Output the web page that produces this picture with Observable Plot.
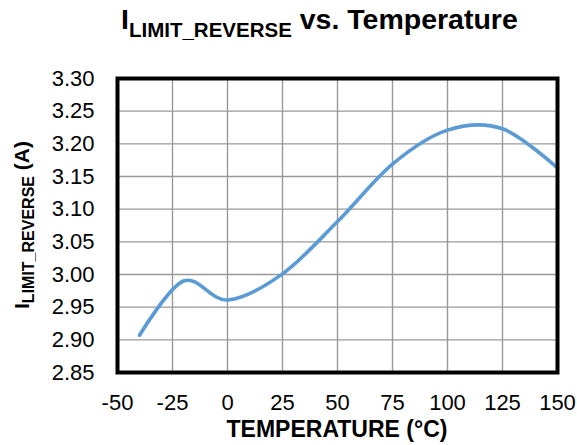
<!DOCTYPE html>
<html><head><meta charset="utf-8">
<script src="https://cdn.jsdelivr.net/npm/d3@7"></script>
<script src="https://cdn.jsdelivr.net/npm/@observablehq/plot@0.6"></script>
<style>body{margin:0;background:#fff;font-family:"Liberation Sans",Arial,sans-serif}</style>
</head><body><div id="chart"></div>
<script>
const temperature = [-40, -20, 0, 25, 50, 75, 100, 125, 150];
const current = [2.907, 2.990, 2.961, 3.001, 3.081, 3.169, 3.221, 3.223, 3.163];
const xTicks = [-50, -25, 0, 25, 50, 75, 100, 125, 150];
const yTicks = [2.85, 2.90, 2.95, 3.00, 3.05, 3.10, 3.15, 3.20, 3.25, 3.30];
const titleMain = "I", titleSub = "LIMIT_REVERSE", titleRest = " vs. Temperature";
const xLabel = "TEMPERATURE (°C)";
const yLabelMain = "I", yLabelSub = "LIMIT_REVERSE", yLabelRest = " (A)";

const data = temperature.map((t, i) => ({t, v: current[i]}));
const font = "Liberation Sans, Arial, sans-serif";

const plot = Plot.plot({
  width: 577, height: 445,
  marginLeft: 117, marginRight: 20, marginTop: 78, marginBottom: 73,
  style: {fontFamily: font, fontSize: "22px", background: "#fff", color: "#000"},
  x: {domain: [-50, 150]},
  y: {domain: [2.85, 3.30]},
  marks: [
    Plot.gridX(xTicks, {stroke: "#999", strokeOpacity: 1, strokeWidth: 1.4}),
    Plot.gridY(yTicks, {stroke: "#999", strokeOpacity: 1, strokeWidth: 1.4}),
    Plot.line(data, {x: "t", y: "v", stroke: "#5B9BD5", strokeWidth: 3.6, curve: "cardinal"}),
    Plot.frame({stroke: "#000", strokeWidth: 4}),
    Plot.axisX({ticks: xTicks, tickSize: 0, tickPadding: 22, fontSize: 22, label: null, tickFormat: d => String(d)}),
    Plot.axisY({ticks: yTicks, tickSize: 0, tickPadding: 23, fontSize: 22, label: null, tickFormat: d3.format(".2f")})
  ]
});
document.getElementById("chart").appendChild(plot);

const svg = d3.select(plot);
const xs = plot.scale("x").range, ys = plot.scale("y").range;
const cx = (xs[0] + xs[1]) / 2, cy = (ys[0] + ys[1]) / 2;

// title
const t = svg.append("text").attr("x", 121).attr("y", 29).attr("text-anchor", "start")
  .attr("font-family", font).attr("font-weight", "bold").attr("fill", "#000");
t.append("tspan").attr("font-size", 28.5).text(titleMain);
t.append("tspan").attr("font-size", 20.5).attr("dy", 7.5).text(titleSub);
t.append("tspan").attr("font-size", 28.5).attr("dy", -7.5).text(titleRest);

// x label
svg.append("text").attr("x", cx).attr("y", 437).attr("text-anchor", "middle")
  .attr("font-family", font).attr("font-weight", "bold").attr("font-size", 23).attr("fill", "#000")
  .text(xLabel);

// y label
const yl = svg.append("text").attr("transform", `translate(29,${cy}) rotate(-90)`)
  .attr("text-anchor", "middle").attr("font-family", font).attr("font-weight", "bold").attr("fill", "#000");
yl.append("tspan").attr("font-size", 21).text(yLabelMain);
yl.append("tspan").attr("font-size", 16).attr("dy", 4.5).text(yLabelSub);
yl.append("tspan").attr("font-size", 21).attr("dy", -4.5).text(yLabelRest);
</script></body></html>
